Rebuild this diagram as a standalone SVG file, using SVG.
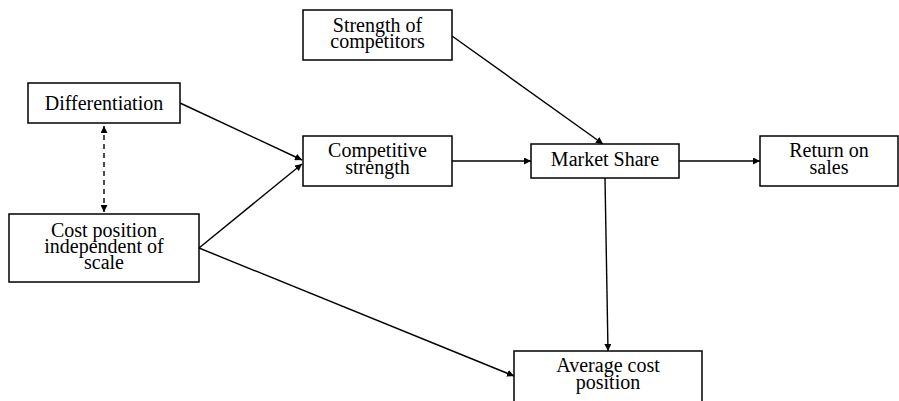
<svg xmlns="http://www.w3.org/2000/svg" width="899" height="401" viewBox="0 0 899 401">
<style>
rect{fill:#fff;stroke:#000;stroke-width:1.5}
text{font-family:"Liberation Serif","Times New Roman",serif;font-size:20px;text-anchor:middle;fill:#000}
.c line{stroke:#000;stroke-width:1.4;fill:none}
.d{stroke-dasharray:5,4}
</style>
<defs>
<marker id="a" viewBox="0 0 10 10" refX="10" refY="5" markerWidth="7" markerHeight="7" markerUnits="userSpaceOnUse" orient="auto-start-reverse"><path d="M0,0L10,5L0,10z" fill="#000"/></marker>
</defs>
<rect x="0" y="0" width="899" height="401" style="stroke:none"/>
<g class="c">
<line x1="104" y1="126" x2="104" y2="212" class="d" marker-start="url(#a)" marker-end="url(#a)"/>
<line x1="180" y1="103" x2="302" y2="160" marker-end="url(#a)"/>
<line x1="199" y1="248" x2="302" y2="164" marker-end="url(#a)"/>
<line x1="199" y1="248" x2="514" y2="376" marker-end="url(#a)"/>
<line x1="452" y1="36" x2="603" y2="144" marker-end="url(#a)"/>
<line x1="452" y1="161" x2="531" y2="161" marker-end="url(#a)"/>
<line x1="679" y1="161" x2="760" y2="161" marker-end="url(#a)"/>
<line x1="605" y1="178" x2="608" y2="351" marker-end="url(#a)"/>
</g>
<g id="differentiation"><rect x="28" y="83" width="152" height="40"/><text x="104" y="110">Differentiation</text></g>
<g id="cost-position"><rect x="9" y="214" width="190" height="68"/><text x="104" y="237">Cost position</text><text x="104" y="253">independent of</text><text x="104" y="269">scale</text></g>
<g id="strength-competitors"><rect x="303" y="10" width="149" height="50"/><text x="377.5" y="32">Strength of</text><text x="377.5" y="48">competitors</text></g>
<g id="competitive-strength"><rect x="303" y="136" width="149" height="50"/><text x="377.5" y="157">Competitive</text><text x="377.5" y="174">strength</text></g>
<g id="market-share"><rect x="531" y="144" width="148" height="34"/><text x="605" y="166">Market Share</text></g>
<g id="return-on-sales"><rect x="760" y="136" width="138" height="50"/><text x="829" y="157">Return on</text><text x="829" y="174">sales</text></g>
<g id="average-cost"><rect x="514" y="351" width="188" height="60"/><text x="608" y="372">Average cost</text><text x="608" y="389">position</text></g>
</svg>
